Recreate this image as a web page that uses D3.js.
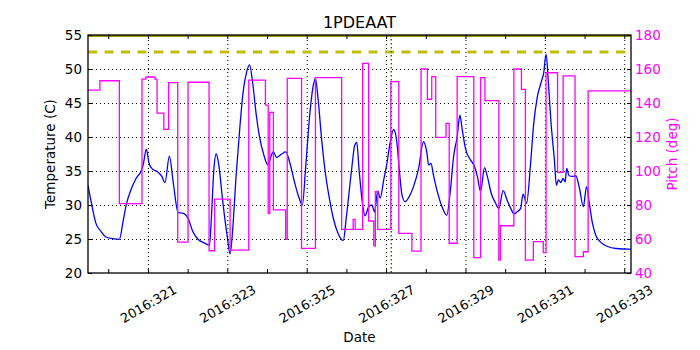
<!DOCTYPE html>
<html>
<head>
<meta charset="utf-8">
<script src="https://cdn.jsdelivr.net/npm/d3@7"></script>
<style>
  body { margin: 0; background: #fff; }
  text { font-family: "DejaVu Sans", sans-serif; }
</style>
</head>
<body>
<div id="ChartArea"></div>
<script>
// ---- data (day of year 2016) ----
var tempDays = [319.49,319.61,319.69,319.82,319.94,320.11,320.28,320.38,320.46,320.57,320.70,320.82,320.88,320.96,
  321.03,321.12,321.24,321.35,321.43,321.54,321.64,321.76,321.88,322.01,322.13,322.26,322.43,322.55,322.60,322.66,
  322.72,322.78,322.89,323.00,323.07,323.14,323.22,323.31,323.39,323.48,323.56,323.64,323.73,323.81,323.92,324.02,
  324.13,324.16,324.24,324.37,324.47,324.58,324.70,324.81,324.89,324.98,325.08,325.16,325.22,325.29,325.37,325.46,
  325.57,325.67,325.79,325.92,326.00,326.13,326.21,326.26,326.32,326.41,326.47,326.56,326.64,326.71,326.79,326.85,
  326.94,327.02,327.10,327.19,327.27,327.34,327.40,327.48,327.58,327.69,327.82,327.94,328.03,328.07,328.13,328.20,
  328.28,328.41,328.53,328.62,328.70,328.79,328.86,328.92,329.00,329.13,329.21,329.30,329.38,329.48,329.55,329.65,
  329.76,329.84,329.95,330.05,330.14,330.22,330.30,330.39,330.45,330.54,330.64,330.72,330.81,330.91,330.97,331.03,
  331.09,331.15,331.24,331.29,331.34,331.40,331.46,331.51,331.55,331.61,331.70,331.78,331.87,331.97,332.05,332.12,
  332.20,332.28,332.41,332.58,332.79,333.12,333.17];
var tempValues = [32.9,29.3,27.3,26.1,25.3,25.05,24.95,27.8,30.2,32.2,33.9,34.9,35.9,38.2,
  36.1,35.25,34.9,34.2,33.3,37.2,33.2,28.9,28.8,28.05,26.1,24.96,24.4,24.1,28.3,35.15,
  37.5,36.1,30.25,25.3,22.8,26.8,34.2,41.0,46.2,49.4,50.6,47.9,43.2,40.05,37.35,35.9,
  37.6,37.8,37.0,37.5,37.8,36.1,33.2,31.0,30.0,36.1,43.5,47.4,48.6,45.4,40.05,35.15,
  31.0,28.05,25.8,24.75,28.3,35.15,38.8,39.2,35.15,30.0,28.4,29.75,30.0,29.0,32.06,31.0,
  33.7,36.1,39.1,41.1,39.3,34.7,31.5,30.5,31.2,32.7,35.4,39.3,37.6,35.9,36.1,34.2,
  32.2,29.75,28.5,32.2,37.1,40.0,43.2,41.0,38.3,36.6,35.9,34.2,32.0,35.5,34.2,31.7,
  30.25,29.5,32.1,30.7,29.5,28.7,29.0,29.5,31.6,30.25,36.1,42.0,45.9,48.1,49.4,52.2,
  47.9,42.5,36.6,32.9,33.7,33.3,33.9,33.4,35.4,34.3,34.2,34.3,32.5,29.75,32.7,30.25,
  27.3,25.6,24.5,23.9,23.6,23.5,23.5];

var pitchDays = [319.49,319.79,320.28,320.85,320.95,321.18,321.23,321.40,321.52,321.75,322.01,322.54,322.68,323.07,
  323.54,323.96,324.03,324.07,324.16,324.47,324.51,324.87,325.22,325.88,326.17,326.22,326.41,326.56,326.69,326.73,
  326.79,327.12,327.32,327.65,327.88,328.04,328.15,328.25,328.51,328.59,328.79,329.21,329.38,329.49,329.84,329.88,
  330.22,330.41,330.51,330.71,330.96,331.03,331.32,331.46,331.76,331.97,332.09,333.17];
var pitchValues = [147.6,153.1,80.8,154.1,155.3,154.1,134.0,124.5,152.0,58.2,152.2,53.1,83.4,53.5,
  153.5,138.8,75.1,134.5,77.1,59.8,154.5,54.5,154.9,65.7,71.6,65.7,163.3,70.6,55.9,87.8,
  65.7,152.6,63.3,52.9,160.0,142.2,155.5,119.8,128.0,57.5,155.5,49.0,154.9,141.4,47.6,67.8,
  160.0,148.0,47.6,58.4,52.0,157.8,99.2,155.9,49.6,52.5,147.1,147.1];

var limitTemps = [52.5];       // dashed limit
var planLimit = [55];          // solid limit at top
var nowDay = 327.13;           // green dotted marker

var xMajorDays = [321,323,325,327,329,331,333];
var xMinorDays = d3.range(320, 334, 1);
var tempTicks = [20,25,30,35,40,45,50,55];
var pitchTicks = [40,60,80,100,120,140,160,180];

// ---- layout ----
const margin = {top: 35, right: 69, bottom: 77, left: 88};
const width = 700 - margin.left - margin.right;
const height = 350 - margin.top - margin.bottom;

const x = d3.scaleLinear().domain([319.49, 333.17]).range([0, width]);
const yT = d3.scaleLinear().domain([20, 55]).range([height, 0]);
const yP = d3.scaleLinear().domain([40, 180]).range([height, 0]);

var root = d3.select("#ChartArea").append("svg")
    .attr("width", 700).attr("height", 350);
var svg = root.append("g")
    .attr("transform", "translate(" + margin.left + "," + margin.top + ")");

svg.append("defs").append("clipPath").attr("id", "plotClip")
  .append("rect").attr("width", width).attr("height", height);

// grid
svg.append("g")
    .attr("transform", "translate(0," + height + ")")
    .call(d3.axisBottom(x).tickValues(xMajorDays).tickSize(-height).tickFormat(""))
    .call(g => g.select(".domain").remove())
    .selectAll("line").attr("stroke", "#000").attr("stroke-dasharray", "1,3");
svg.append("g")
    .call(d3.axisLeft(yT).tickValues(tempTicks.slice(1, -1)).tickSize(-width).tickFormat(""))
    .call(g => g.select(".domain").remove())
    .selectAll("line").attr("stroke", "#000").attr("stroke-dasharray", "1,3");

var plot = svg.append("g").attr("clip-path", "url(#plotClip)");

// temperature line
plot.append("path")
    .datum(tempDays.map((d, i) => [d, tempValues[i]]))
    .attr("fill", "none")
    .attr("stroke", "#0000ff")
    .attr("stroke-width", 1.3)
    .attr("d", d3.line().x(d => x(d[0])).y(d => yT(d[1])).curve(d3.curveMonotoneX));

// limit lines
plot.selectAll(".limit")
    .data(limitTemps)
    .enter().append("line")
    .attr("x1", 0).attr("x2", width)
    .attr("y1", d => yT(d)).attr("y2", d => yT(d))
    .attr("stroke", "#bfbf00").attr("stroke-width", 3)
    .attr("stroke-dasharray", "9,7.5");
plot.selectAll(".plan")
    .data(planLimit)
    .enter().append("line")
    .attr("x1", 0).attr("x2", width)
    .attr("y1", d => yT(d)).attr("y2", d => yT(d))
    .attr("stroke", "#9a9a00").attr("stroke-width", 4);

// now marker
plot.append("line")
    .attr("x1", x(nowDay)).attr("x2", x(nowDay))
    .attr("y1", 0).attr("y2", height)
    .attr("stroke", "#008000").attr("stroke-width", 1.5)
    .attr("stroke-dasharray", "1.5,2.5");

// pitch step line
plot.append("path")
    .datum(pitchDays.map((d, i) => [d, pitchValues[i]]))
    .attr("fill", "none")
    .attr("stroke", "#ff00ff")
    .attr("stroke-width", 1.3)
    .attr("d", d3.line().x(d => x(d[0])).y(d => yP(d[1])).curve(d3.curveStepAfter));

// axes (ticks inward)
function clean(g) { g.select(".domain").remove(); g.selectAll("line").attr("stroke", "#000"); }

svg.append("g").attr("transform", "translate(0," + height + ")")
    .call(d3.axisBottom(x).tickValues(xMinorDays).tickSize(-4).tickFormat(""))
    .call(clean);
svg.append("g")
    .call(d3.axisTop(x).tickValues(xMinorDays).tickSize(-4).tickFormat(""))
    .call(clean);

var xAxis = svg.append("g").attr("transform", "translate(0," + height + ")")
    .call(d3.axisBottom(x).tickValues(xMajorDays).tickSize(0).tickFormat(d => "2016:" + d))
    .call(clean);
xAxis.selectAll("text")
    .attr("y", 0).attr("dy", null)
    .attr("dominant-baseline", "central")
    .attr("text-anchor", "middle")
    .attr("transform", "translate(0,31) rotate(-30)")
    .attr("fill", "#000")
    .style("font-size", "13px");

svg.append("g")
    .call(d3.axisLeft(yT).tickValues(tempTicks).tickSize(-4).tickPadding(6))
    .call(clean)
    .selectAll("text").attr("fill", "#000").style("font-size", "13.5px");

svg.append("g").attr("transform", "translate(" + width + ",0)")
    .call(d3.axisRight(yP).tickValues(pitchTicks).tickSize(-4).tickPadding(4))
    .call(clean)
    .selectAll("text").attr("fill", "#ff00ff").style("font-size", "13.5px");

// frame
svg.append("rect")
    .attr("width", width).attr("height", height)
    .attr("fill", "none").attr("stroke", "#000").attr("stroke-width", 1.3);

// labels
root.append("text")
    .attr("x", margin.left + width / 2).attr("y", 28)
    .attr("text-anchor", "middle").style("font-size", "16px")
    .text("1PDEAAT");
root.append("text")
    .attr("x", margin.left + width / 2).attr("y", 342)
    .attr("text-anchor", "middle").style("font-size", "13.5px")
    .text("Date");
root.append("text")
    .attr("transform", "translate(50," + (margin.top + height / 2) + ") rotate(-90)")
    .attr("text-anchor", "middle").attr("dominant-baseline", "central")
    .style("font-size", "13.5px")
    .text("Temperature (C)");
root.append("text")
    .attr("transform", "translate(672," + (margin.top + height / 2) + ") rotate(-90)")
    .attr("text-anchor", "middle").attr("dominant-baseline", "central")
    .attr("fill", "#ff00ff")
    .style("font-size", "13.5px")
    .text("Pitch (deg)");
</script>
</body>
</html>
